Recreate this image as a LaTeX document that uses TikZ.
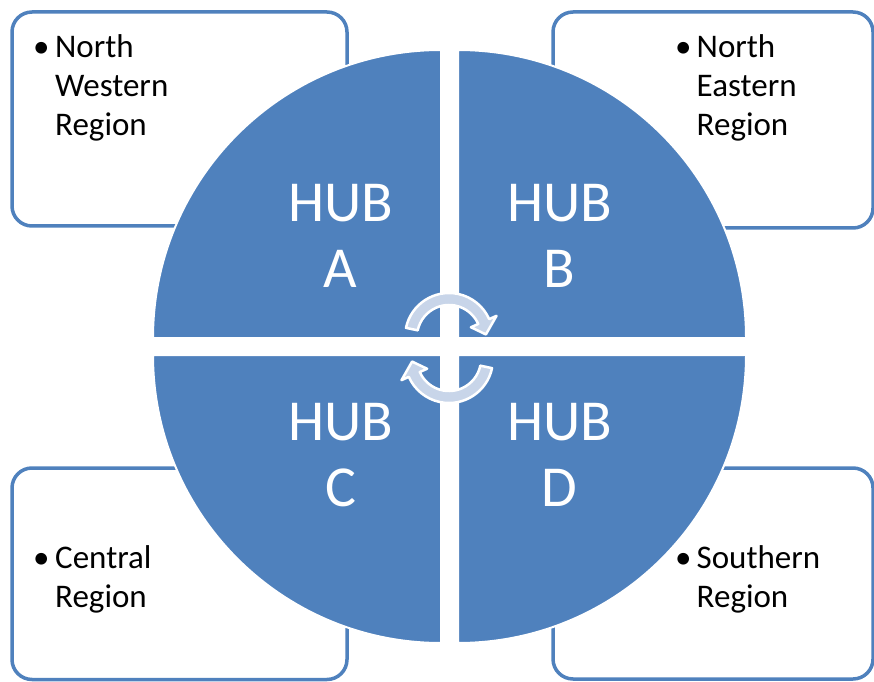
\documentclass[tikz,border=0pt]{standalone}
\usepackage{fontspec}
\setmainfont{Carlito}
\definecolor{hubblue}{HTML}{4F81BD}
\definecolor{arrowfill}{HTML}{C8D5E9}
\begin{document}
\begin{tikzpicture}[x=1pt,y=1pt,
  regionbox/.style={draw=hubblue, line width=3.5pt, fill=white, rounded corners=20pt},
  quadrant/.style={fill=hubblue, draw=white, line width=2pt},
  cyclearrow/.style={fill=arrowfill, draw=white, line width=2.5pt, line join=round},
  regiontext/.style={anchor=base west, inner sep=0pt, text=black, font=\fontsize{33}{39}\selectfont},
  hubtext/.style={anchor=base, inner sep=0pt, text=white, font=\fontsize{58}{66}\selectfont}]
\useasboundingbox (0,0) rectangle (874,681);
% region boxes
\draw[regionbox] (12,455) rectangle (347,669);
\draw[regionbox] (553,453) rectangle (873,669);
\draw[regionbox] (12,1.5) rectangle (347,213);
\draw[regionbox] (553,2) rectangle (873,213);
% quadrants
\path[quadrant] (441,343) -- ++(-288pt,0) arc (180:90:288pt) -- cycle;
\path[quadrant] (458,343) -- ++(0,288pt) arc (90:0:288pt) -- cycle;
\path[quadrant] (441,326) -- ++(0,-288pt) arc (270:180:288pt) -- cycle;
\path[quadrant] (458,326) -- ++(288pt,0) arc (0:-90:288pt) -- cycle;
% cycle arrows
\begin{scope}[shift={(449,344)}]
\path[cyclearrow] (168:44pt) arc (168:24:44pt) -- (24:52pt) -- (4:37pt) -- (24:24pt) -- (24:32pt) arc (24:168:32pt) -- cycle;
\end{scope}
\begin{scope}[shift={(449,322)},rotate=180]
\path[cyclearrow] (168:44pt) arc (168:24:44pt) -- (24:52pt) -- (4:37pt) -- (24:24pt) -- (24:32pt) arc (24:168:32pt) -- cycle;
\end{scope}
% hub labels
\node[hubtext] (hubA) at (340.5,459) {\begin{tabular}[t]{@{}c@{}}HUB\\A\end{tabular}};
\node[hubtext] (hubB) at (559.5,459) {\begin{tabular}[t]{@{}c@{}}HUB\\B\end{tabular}};
\node[hubtext] (hubC) at (340.5,241) {\begin{tabular}[t]{@{}c@{}}HUB\\C\end{tabular}};
\node[hubtext] (hubD) at (559.5,241) {\begin{tabular}[t]{@{}c@{}}HUB\\D\end{tabular}};
% region labels
\node[regiontext] (nw) at (33,623.5) {\begin{tabular}[t]{@{}p{22pt}@{}l@{}}\textbullet & North\\ & Western\\ & Region\end{tabular}};
\node[regiontext] (ne) at (675,623.5) {\begin{tabular}[t]{@{}p{21.5pt}@{}l@{}}\textbullet & North\\ & Eastern\\ & Region\end{tabular}};
\node[regiontext] (ce) at (33,112.7) {\begin{tabular}[t]{@{}p{22pt}@{}l@{}}\textbullet & Central\\ & Region\end{tabular}};
\node[regiontext] (so) at (675,113) {\begin{tabular}[t]{@{}p{21.5pt}@{}l@{}}\textbullet & Southern\\ & Region\end{tabular}};
\end{tikzpicture}
\end{document}
